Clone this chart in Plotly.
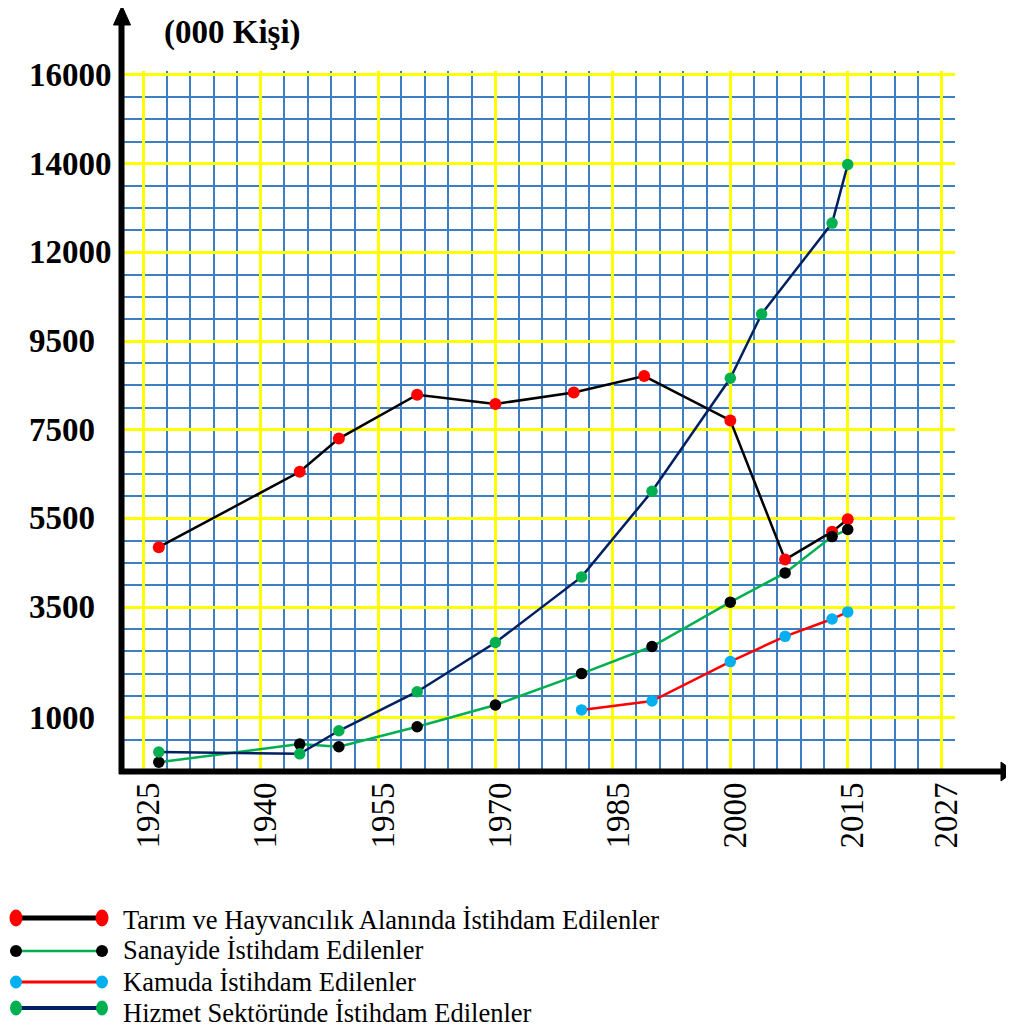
import numpy as np
import plotly.graph_objects as go

# ---------------- data (thousand persons) ----------------
tarim_years = [1927, 1945, 1950, 1960, 1970, 1980, 1989, 2000, 2007, 2013, 2015]
tarim_vals = [4850, 6550, 7300, 8290, 8080, 8340, 8710, 7710, 4570, 5200, 5480]

sanayi_years = [1927, 1945, 1950, 1960, 1970, 1981, 1990, 2000, 2007, 2013, 2015]
sanayi_vals = [0, 410, 350, 800, 1290, 2000, 2610, 3610, 4270, 5090, 5250]

kamu_years = [1981, 1990, 2000, 2007, 2013, 2015]
kamu_vals = [1180, 1380, 2270, 2840, 3230, 3390]

hizmet_years = [1927, 1945, 1950, 1960, 1970, 1981, 1990, 2000, 2004, 2013, 2015]
hizmet_vals = [230, 190, 710, 1590, 2700, 4180, 6110, 8660, 10260, 12660, 13980]

x_tick_labels = [1925, 1940, 1955, 1970, 1985, 2000, 2015, 2027]
y_tick_labels = [1000, 3500, 5500, 7500, 9500, 12000, 14000, 16000]

series_names = [
    "Tarım ve Hayvancılık Alanında İstihdam Edilenler",
    "Sanayide İstihdam Edilenler",
    "Kamuda İstihdam Edilenler",
    "Hizmet Sektöründe İstihdam Edilenler",
]

# The printed value axis is not uniform: each labelled value sits on a fixed
# grid step. Values are placed on the axis through this piecewise scale.
SCALE_VALUES = [0] + y_tick_labels
SCALE_STEPS = [0, 2, 7, 11, 15, 19, 23, 27, 31]


def to_step(values):
    return np.interp(values, SCALE_VALUES, SCALE_STEPS)


# ---------------- layout geometry (page pixels) ----------------
OFF = 8                      # default page margin of the html body
PAGE_W, PAGE_H = 1014, 1032
W, H = PAGE_W - OFF, PAGE_H - OFF
PLOT_LEFT, PLOT_RIGHT, PLOT_TOP, PLOT_BOTTOM = 122, 955, 71, 770
L, T = PLOT_LEFT - OFF, PLOT_TOP - OFF
R, B = PAGE_W - PLOT_RIGHT, PAGE_H - PLOT_BOTTOM
PW, PH = PLOT_RIGHT - PLOT_LEFT, PLOT_BOTTOM - PLOT_TOP


def px(x):
    return (x - PLOT_LEFT) / PW


def py(y):
    return (PLOT_BOTTOM - y) / PH


FONT = "Liberation Serif, Times New Roman, serif"
YELLOW = "#FFFF00"
GRIDBLUE = "#3E7FC4"

styles = [
    dict(line="#000000", marker="#FF0000", msize=12),
    dict(line="#00B050", marker="#000000", msize=11.5),
    dict(line="#FF0000", marker="#00B0F0", msize=11.5),
    dict(line="#002060", marker="#00B050", msize=11.5),
]
data = [
    (tarim_years, tarim_vals),
    (sanayi_years, sanayi_vals),
    (kamu_years, kamu_vals),
    (hizmet_years, hizmet_vals),
]

fig = go.Figure()
for (yrs, vals), st, name in zip(data, styles, series_names):
    fig.add_trace(go.Scatter(
        x=yrs, y=to_step(vals), customdata=vals, name=name,
        mode="lines+markers",
        line=dict(color=st["line"], width=2.5),
        marker=dict(color=st["marker"], size=st["msize"]),
        hovertemplate="%{x}: %{customdata}<extra>" + name + "</extra>",
        showlegend=False,
    ))

fig.update_xaxes(
    range=[1922.3, 2028.7],
    tickmode="array", tickvals=x_tick_labels, ticktext=[str(v) for v in x_tick_labels],
    tickangle=-90, tickfont=dict(family=FONT, size=33, color="black"),
    ticklabelstandoff=5, ticklabelshift=5,
    showgrid=True, gridcolor=YELLOW, gridwidth=3,
    minor=dict(tick0=1925, dtick=3, showgrid=True, gridcolor=GRIDBLUE, gridwidth=1.6),
    zeroline=False, showline=False, ticks="",
)
fig.update_yaxes(
    range=[-0.35, 31.18],
    tickmode="array", tickvals=list(to_step(y_tick_labels)), showticklabels=False,
    showgrid=True, gridcolor=YELLOW, gridwidth=3,
    minor=dict(tickmode="array", tickvals=list(range(1, 32)), showgrid=True,
               gridcolor=GRIDBLUE, gridwidth=1.6),
    zeroline=False, showline=False, ticks="",
)

annotations = []
for v in y_tick_labels:
    annotations.append(dict(
        x=px(27), xref="paper", y=float(to_step(v)), yref="y",
        text=f"<b>{v}</b>", showarrow=False, xanchor="left", yanchor="middle",
        font=dict(family=FONT, size=33, color="black"),
    ))
annotations.append(dict(
    x=px(162), xref="paper", y=py(33), yref="paper",
    text="<b>(000 Kişi)</b>", showarrow=False, xanchor="left", yanchor="middle",
    font=dict(family=FONT, size=33, color="black"),
))

shapes = []
# axes with arrows
shapes.append(dict(type="line", xref="paper", yref="paper",
                   x0=px(121.5), x1=px(121.5), y0=py(774), y1=py(22),
                   line=dict(color="black", width=6)))
shapes.append(dict(type="path", xref="paper", yref="paper",
                   path=f"M {px(122)} {py(6)} L {px(113.5)} {py(25)} L {px(130.5)} {py(25)} Z",
                   fillcolor="black", line=dict(color="black", width=1)))
shapes.append(dict(type="line", xref="paper", yref="paper",
                   x0=px(119), x1=px(1003), y0=py(771.5), y1=py(771.5),
                   line=dict(color="black", width=6)))
shapes.append(dict(type="path", xref="paper", yref="paper",
                   path=f"M {px(1014)} {py(771.5)} L {px(1001)} {py(762)} L {px(1001)} {py(781)} Z",
                   fillcolor="black", line=dict(color="black", width=1)))

# custom legend
leg_rows = [918, 951, 982, 1008]
leg_text_y = [920, 950, 982, 1013]
leg_lw = [5, 2.5, 3, 4]
leg_dot = [(13, 17), (12, 12), (12, 13), (12, 15)]
for i, st in enumerate(styles):
    yc = leg_rows[i]
    shapes.append(dict(type="line", xref="paper", yref="paper",
                       x0=px(17), x1=px(102), y0=py(yc), y1=py(yc),
                       line=dict(color=st["line"], width=leg_lw[i])))
    dw, dh = leg_dot[i]
    for xc in (16, 102):
        shapes.append(dict(type="circle", xref="paper", yref="paper",
                           x0=px(xc - dw / 2), x1=px(xc + dw / 2),
                           y0=py(yc + dh / 2), y1=py(yc - dh / 2),
                           fillcolor=st["marker"], line=dict(width=0)))
    annotations.append(dict(
        x=px(121), xref="paper", y=py(leg_text_y[i]), yref="paper",
        text=series_names[i], showarrow=False, xanchor="left", yanchor="middle",
        font=dict(family=FONT, size=26.5, color="black"),
    ))

fig.update_layout(
    width=W, height=H,
    margin=dict(l=L, r=R, t=T, b=B, autoexpand=False),
    paper_bgcolor="white", plot_bgcolor="white",
    shapes=shapes, annotations=annotations,
    showlegend=False,
)

fig.write_html("out.html")
